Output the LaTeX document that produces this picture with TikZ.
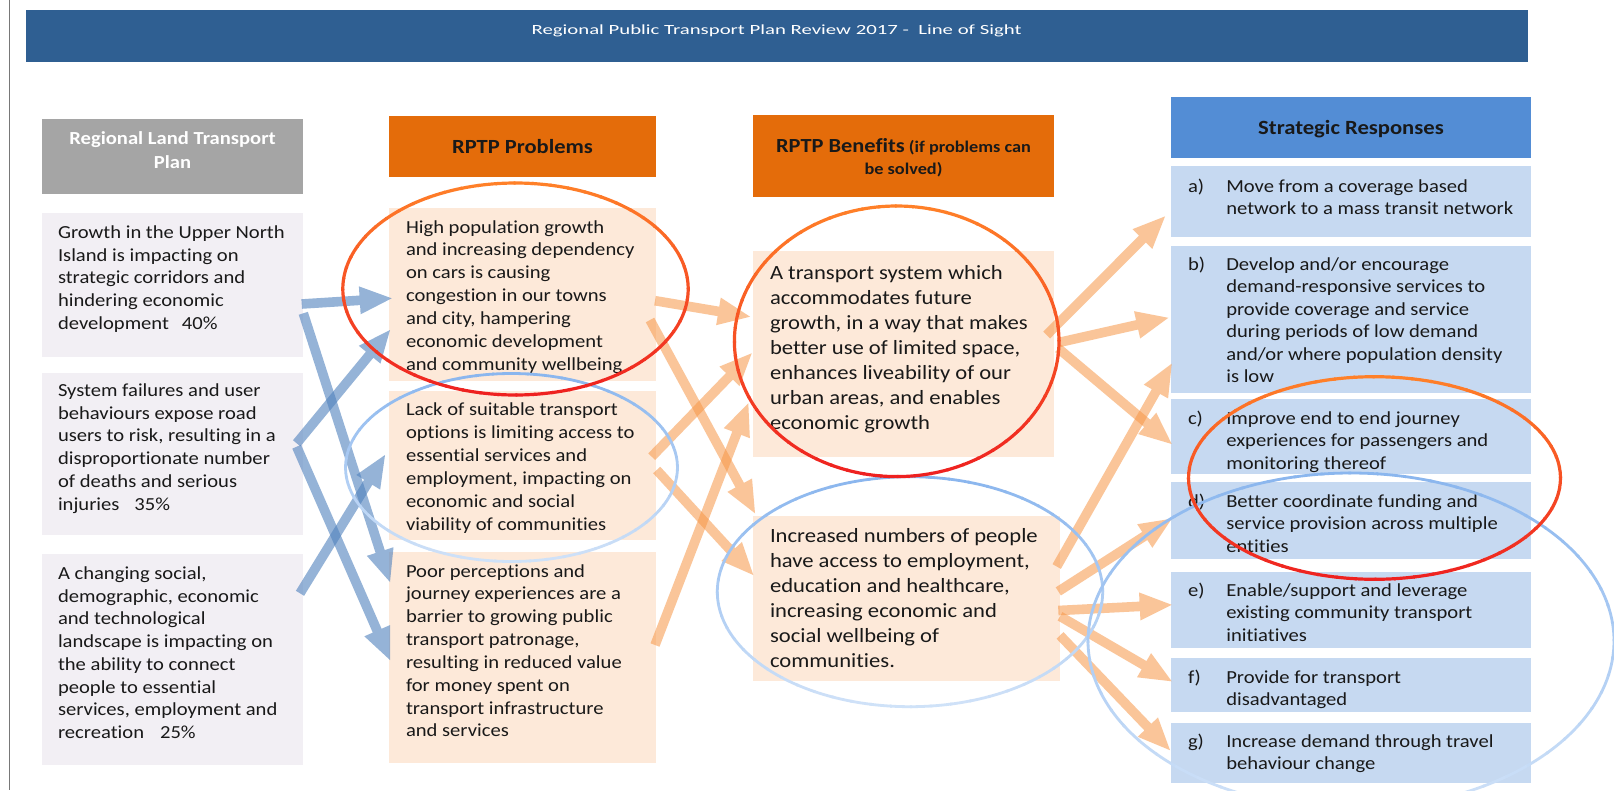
\documentclass[tikz,border=0pt]{standalone}
\usepackage{fontspec}
\setmainfont{Carlito}[FakeStretch=1.12, Ligatures=NoCommon]
\usepackage{graphicx}
\usetikzlibrary{calc}

\definecolor{barblue}{RGB}{47,95,146}
\definecolor{rlgray}{RGB}{165,165,165}
\definecolor{rlfill}{RGB}{242,239,244}
\definecolor{probhead}{RGB}{228,108,10}
\definecolor{probfill}{RGB}{253,233,217}
\definecolor{resphead}{RGB}{83,141,213}
\definecolor{respfill}{RGB}{198,217,241}
\definecolor{inkdark}{RGB}{25,25,25}
\definecolor{flowblue}{RGB}{79,129,189}
\definecolor{floworange}{RGB}{247,150,70}
\definecolor{ringorange}{RGB}{255,128,40}
\definecolor{ringred}{RGB}{238,32,32}
\definecolor{ringblue}{RGB}{138,182,238}
\definecolor{ringpale}{RGB}{208,226,248}
\definecolor{framegray}{RGB}{120,120,120}

% box contents: total height, width, first baseline offset, text
\newcommand\cellbody[4]{\parbox[t][#1][t]{#2}{\rule{0pt}{#3}#4}}
\newcommand\cellcentred[4]{\parbox[t][#1][t]{#2}{\centering\rule{0pt}{#3}#4}}
% lettered response: total height, first baseline offset, label, text
\newcommand\resp[4]{\parbox[t][#1][t]{326pt}{\rule{0pt}{#2}\makebox[38.3pt][l]{#3}\parbox[t]{287.7pt}{#4}}}

% broad flow arrow drawn as one filled outline
\newcommand\fashaft{4.8pt}
\newcommand\fawing{14pt}
\newcommand\fahead{32pt}
\newcommand\fatarrow[2]{%
  \coordinate (fa-base) at ($(#2)!\fahead!(#1)$);
  \fill ($(#1)!\fashaft!90:(#2)$) -- ($(fa-base)!\fashaft!90:(#2)$)
    -- ($(fa-base)!\fawing!90:(#2)$) -- (#2)
    -- ($(fa-base)!\fawing!-90:(#2)$) -- ($(fa-base)!\fashaft!-90:(#2)$)
    -- ($(#1)!\fashaft!-90:(#2)$) -- cycle;}

% highlight ring whose colour fades from top to bottom
\newcommand\gradring[5]{%
  \foreach \ang in {0,6,...,354}{%
    \pgfmathtruncatemacro\bot{50-50*sin(\ang+3)}%
    \draw[draw=#5!\bot!#4] ($(#1)+(\ang:#2pt and #3pt)$)
      arc[start angle=\ang, end angle=\ang+6.6, x radius=#2pt, y radius=#3pt];
  }}

\tikzset{
  cell/.style={anchor=north west, inner ysep=0pt, inner xsep=0pt, outer sep=0pt, text=inkdark},
  titlebar/.style={cell, fill=barblue, text=white},
  rlhead/.style={cell, fill=rlgray, text=white, font=\fontsize{18.4pt}{24.6pt}\selectfont\bfseries},
  rlcell/.style={cell, fill=rlfill, inner xsep=16pt, font=\fontsize{18.4pt}{22.7pt}\selectfont},
  pphead/.style={cell, fill=probhead, font=\fontsize{20.1pt}{22pt}\selectfont\bfseries},
  ppcell/.style={cell, fill=probfill, inner xsep=17pt, font=\fontsize{18.4pt}{22.85pt}\selectfont},
  bbhead/.style={cell, fill=probhead, font=\fontsize{16.3pt}{22pt}\selectfont\bfseries},
  bbcell/.style={cell, fill=probfill, inner xsep=17pt, font=\fontsize{20.2pt}{25.05pt}\selectfont},
  srhead/.style={cell, fill=resphead, font=\fontsize{20.2pt}{22pt}\selectfont\bfseries},
  srcell/.style={cell, fill=respfill, inner xsep=17pt, font=\fontsize{18.4pt}{22.4pt}\selectfont},
  bluering/.style={line width=2.8pt},
  redring/.style={line width=3.2pt}
}

\begin{document}
\begin{tikzpicture}[x=1pt, y=-1pt]
\useasboundingbox (0,0) rectangle (1614,790);
\fill[white] (0,0) rectangle (1614,790);
\draw[framegray, line width=1.2pt] (9.3,0) -- (9.3,790);

% title bar
\node[titlebar] (title) at (25.7,10.3) {\cellcentred{51.5pt}{1501.8pt}{24.2pt}{\resizebox{490pt}{\height}{\fontsize{14pt}{16pt}\selectfont Regional Public Transport Plan Review 2017 -\ \ Line of Sight}}};

% column 1: regional land transport plan
\node[rlhead] (rlh) at (42,119) {\cellcentred{75pt}{261pt}{25.2pt}{Regional Land Transport\\Plan}};
\node[rlcell] (rl1) at (42,213) {\cellbody{144pt}{229pt}{25.5pt}{Growth in the Upper North\\Island is impacting on\\strategic corridors and\\hindering economic\\development\hspace{13pt}40\%}};
\node[rlcell] (rl2) at (42,373) {\cellbody{162pt}{229pt}{23.5pt}{System failures and user\\behaviours expose road\\users to risk, resulting in a\\disproportionate number\\of deaths and serious\\injuries\hspace{15pt}35\%}};
\node[rlcell] (rl3) at (42,554) {\cellbody{211pt}{229pt}{25.5pt}{A changing social,\\demographic, economic\\and technological\\landscape is impacting on\\the ability to connect\\people to essential\\services, employment and\\recreation\hspace{16pt}25\%}};

% column 2: problems
\node[pphead] (pph) at (389,116) {\cellcentred{61pt}{267pt}{37.7pt}{RPTP Problems}};
\node[ppcell] (pp1) at (389,208) {\cellbody{173pt}{233pt}{25pt}{High population growth\\and increasing dependency\\on cars is causing\\congestion in our towns\\and city, hampering\\economic development\\and community wellbeing}};
\node[ppcell] (pp2) at (389,391) {\cellbody{149pt}{233pt}{24.8pt}{Lack of suitable transport\\options is limiting access to\\essential services and\\employment, impacting on\\economic and social\\viability of communities}};
\node[ppcell] (pp3) at (389,552) {\cellbody{211pt}{233pt}{25pt}{Poor perceptions and\\journey experiences are a\\barrier to growing public\\transport patronage,\\resulting in reduced value\\for money spent on\\transport infrastructure\\and services}};

% column 3: benefits
\node[bbhead] (bbh) at (753,115) {\cellcentred{82pt}{301pt}{37.5pt}{{\fontsize{20pt}{22pt}\selectfont RPTP Benefits} (if problems can\\be solved)}};
\node[bbcell] (bb1) at (753,251) {\cellbody{206pt}{267pt}{28pt}{A transport system which\\accommodates future\\growth, in a way that makes\\better use of limited space,\\enhances liveability of our\\urban areas, and enables\\economic growth}};
\node[bbcell] (bb2) at (753,516) {\cellbody{165pt}{273pt}{26pt}{Increased numbers of people\\have access to employment,\\education and healthcare,\\increasing economic and\\social wellbeing of\\communities.}};

% column 4: strategic responses
\node[srhead] (srh) at (1171,97) {\cellcentred{61pt}{360pt}{37.3pt}{Strategic Responses}};
\node[srcell] (sra) at (1171,166) {\resp{71pt}{26.5pt}{a)}{Move from a coverage based\\network to a mass transit network}};
\node[srcell] (srb) at (1171,246) {\resp{147pt}{24.5pt}{b)}{Develop and/or encourage\\demand-responsive services to\\provide coverage and service\\during periods of low demand\\and/or where population density\\is low}};
\node[srcell] (src) at (1171,399) {\resp{75pt}{25.2pt}{c)}{Improve end to end journey\\experiences for passengers and\\monitoring thereof}};
\node[srcell] (srd) at (1171,482) {\resp{77pt}{25.2pt}{d)}{Better coordinate funding and\\service provision across multiple\\entities}};
\node[srcell] (sre) at (1171,572) {\resp{76pt}{24.5pt}{e)}{Enable/support and leverage\\existing community transport\\initiatives}};
\node[srcell] (srf) at (1171,658) {\resp{54pt}{25.2pt}{f)}{Provide for transport\\disadvantaged}};
\node[srcell] (srg) at (1171,723) {\resp{60pt}{24.5pt}{g)}{Increase demand through travel\\behaviour change}};

% flow end points
\coordinate (fb1s) at ($(rl1.east)+(-1.3,19)$);   \coordinate (fb1e) at ($(pp1.west)+(2.7,3.8)$);
\coordinate (fb2s) at ($(rl2.east)+(-6.3,-10.7)$); \coordinate (fb2e) at ($(pp1.west)+(1,35.5)$);
\coordinate (fb3s) at ($(rl1.east)+(0.3,28.3)$);  \coordinate (fb3e) at ($(pp3.west)+(1,-75.5)$);
\coordinate (fb4s) at ($(rl2.east)+(-6.3,-7.3)$);  \coordinate (fb4e) at ($(pp3.west)+(1,2.5)$);
\coordinate (fb5s) at ($(rl3.east)+(-3,-66.2)$);   \coordinate (fb5e) at ($(pp2.west)+(-4,-10.5)$);

\coordinate (fo1s) at ($(pp1.east)+(-1,6.2)$);    \coordinate (fo1e) at ($(bb1.west)+(-3,-37.3)$);
\coordinate (fo2s) at ($(pp1.east)+(-6,25.5)$);   \coordinate (fo2e) at ($(bb2.west)+(2,-85.2)$);
\coordinate (fo3s) at ($(pp2.east)+(-4.3,-8.8)$); \coordinate (fo3e) at ($(bb1.west)+(-1.3,-0.7)$);
\coordinate (fo4s) at ($(pp2.east)+(0.7,4.5)$);   \coordinate (fo4e) at ($(bb2.west)+(0.3,-23.5)$);
\coordinate (fo5s) at ($(pp3.east)+(-1,-12.5)$);  \coordinate (fo5e) at ($(bb1.west)+(-4.7,49.3)$);

\coordinate (fo6s) at ($(bb1.east)+(-7.3,-19)$);  \coordinate (fo6e) at ($(sra.west)+(-6,14.9)$);
\coordinate (fo7s) at ($(bb1.east)+(4.3,-11.4)$); \coordinate (fo7e) at ($(srb.west)+(-2.7,-1.7)$);
\coordinate (fo8s) at ($(bb1.east)+(4.3,-5.6)$);  \coordinate (fo8e) at ($(src.west)+(0.7,7.5)$);
\coordinate (fo9s) at ($(bb2.east)+(-3.3,-32)$);  \coordinate (fo9e) at ($(srb.west)+(0.7,44.2)$);
\coordinate (fo10s) at ($(bb2.east)+(-1.7,-7.1)$); \coordinate (fo10e) at ($(srd.west)+(0.7,-1.8)$);
\coordinate (fo11s) at ($(bb2.east)+(-1.7,12)$);  \coordinate (fo11e) at ($(sre.west)+(0.7,-5.2)$);
\coordinate (fo12s) at ($(bb2.east)+(0,17.8)$);   \coordinate (fo12e) at ($(srf.west)+(0.7,-3.7)$);
\coordinate (fo13s) at ($(bb2.east)+(0,36.9)$);   \coordinate (fo13e) at ($(srg.west)+(-1,-2.8)$);

% land transport -> problems
\begin{scope}[fill=flowblue, fill opacity=0.6]
  \fatarrow{fb1s}{fb1e}
  \fatarrow{fb2s}{fb2e}
  \fatarrow{fb3s}{fb3e}
  \fatarrow{fb4s}{fb4e}
  \fatarrow{fb5s}{fb5e}
\end{scope}

% problems -> benefits -> responses
\begin{scope}[fill=floworange, fill opacity=0.55]
  \fatarrow{fo1s}{fo1e}
  \fatarrow{fo2s}{fo2e}
  \fatarrow{fo3s}{fo3e}
  \fatarrow{fo4s}{fo4e}
  \fatarrow{fo5s}{fo5e}
  \fatarrow{fo6s}{fo6e}
  \fatarrow{fo7s}{fo7e}
  \fatarrow{fo8s}{fo8e}
  \fatarrow{fo9s}{fo9e}
  \fatarrow{fo10s}{fo10e}
  \fatarrow{fo11s}{fo11e}
  \fatarrow{fo12s}{fo12e}
  \fatarrow{fo13s}{fo13e}
\end{scope}

% highlight rings
\coordinate (ringA) at (515.5,289);
\coordinate (ringB) at (511.5,467.5);
\coordinate (ringC) at (896.7,341.3);
\coordinate (ringD) at (910,591.7);
\coordinate (ringE) at (1374.5,478);
\coordinate (ringF) at (1351,641);
\begin{scope}[bluering]
  \gradring{ringB}{166}{94}{ringblue}{ringpale}
  \gradring{ringD}{192.7}{115}{ringblue}{ringpale}
  \gradring{ringF}{263}{168}{ringblue}{ringpale}
\end{scope}
\begin{scope}[redring]
  \gradring{ringA}{172.7}{106}{ringorange}{ringred}
  \gradring{ringC}{162.3}{135.3}{ringorange}{ringred}
  \gradring{ringE}{186}{101.3}{ringorange}{ringred}
\end{scope}
\end{tikzpicture}
\end{document}
